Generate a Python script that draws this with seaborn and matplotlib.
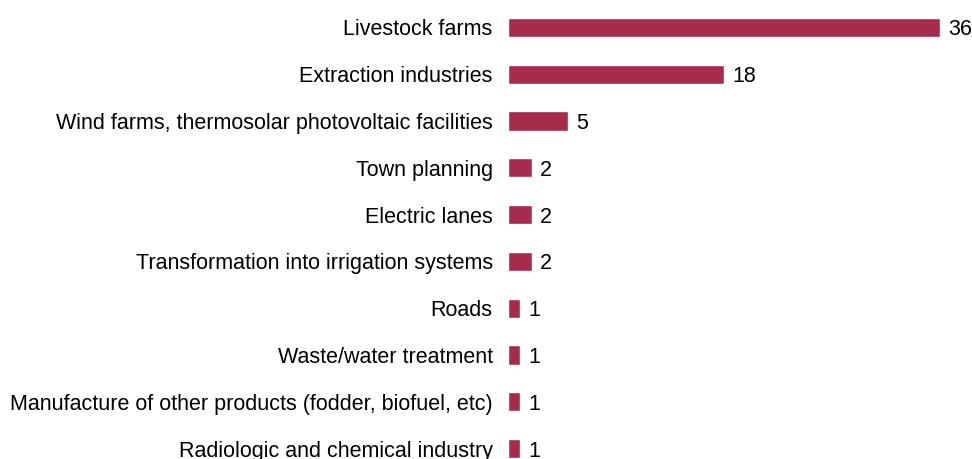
import pandas as pd
import seaborn as sns
from matplotlib import pyplot as plt

categories = ['Livestock farms', 'Extraction industries',
              'Wind farms, thermosolar photovoltaic facilities', 'Town planning',
              'Electric lanes', 'Transformation into irrigation systems', 'Roads',
              'Waste/water treatment',
              'Manufacture of other products (fodder, biofuel, etc)',
              'Radiologic and chemical industry']
counts = [36, 18, 5, 2, 2, 2, 1, 1, 1, 1]

df = pd.DataFrame({'category': categories, 'count': counts})

sns.set_style('white')
plt.rcParams['font.family'] = ['Liberation Sans', 'DejaVu Sans']
plt.rcParams['text.color'] = 'black'
plt.rcParams['ytick.color'] = 'black'

fig = plt.figure(figsize=(9.72, 4.59), dpi=100)
ax = fig.add_axes([508 / 972, -13 / 459, 432 / 972, 468 / 459])

sns.barplot(x='count', y='category', data=df, color='#A72C4B', width=0.41,
            saturation=1, ax=ax, orient='h')

for p, v in zip(ax.patches, counts):
    ax.annotate(str(v), (p.get_width(), p.get_y() + p.get_height() / 2),
                xytext=(6, 0), textcoords='offset points', ha='left',
                va='center_baseline', fontsize=15.5, color='black',
                annotation_clip=False)

ax.set_xlim(0, 36)
ax.set_ylim(9.5, -0.5)
ax.set_xlabel('')
ax.set_ylabel('')
ax.set_xticks([])
ax.tick_params(axis='y', length=0, pad=11, labelsize=15.5, labelcolor='black')
sns.despine(ax=ax, left=True, bottom=True)

fig.savefig('out.png', dpi=100)
